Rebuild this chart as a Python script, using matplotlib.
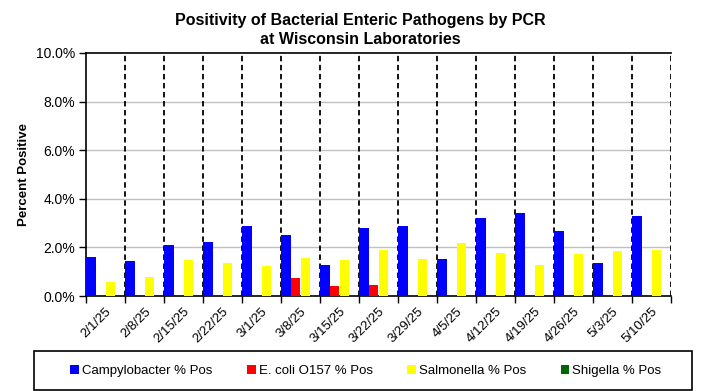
import matplotlib
matplotlib.use("Agg")
import matplotlib.pyplot as plt
import numpy as np
from matplotlib.patches import Rectangle

dates = ["2/1/25", "2/8/25", "2/15/25", "2/22/25", "3/1/25", "3/8/25", "3/15/25",
         "3/22/25", "3/29/25", "4/5/25", "4/12/25", "4/19/25", "4/26/25", "5/3/25", "5/10/25"]
campylobacter = [1.61, 1.45, 2.10, 2.23, 2.89, 2.52, 1.28, 2.81, 2.89, 1.53, 3.22, 3.43, 2.69, 1.36, 3.31]
ecoli = [0, 0, 0, 0, 0, 0.74, 0.41, 0.45, 0, 0, 0, 0, 0, 0, 0]
salmonella = [0.58, 0.79, 1.49, 1.36, 1.24, 1.57, 1.49, 1.90, 1.53, 2.19, 1.78, 1.28, 1.74, 1.86, 1.90]
shigella = [0] * 15
series_names = ["Campylobacter % Pos", "E. coli O157 % Pos", "Salmonella % Pos", "Shigella % Pos"]
colors = ["#0000FF", "#FF0000", "#FFFF00", "#006600"]
yticks = [0, 2, 4, 6, 8, 10]

plt.rcParams['font.family'] = ['Liberation Sans', 'DejaVu Sans']

fig = plt.figure(figsize=(7.04, 3.91), dpi=100)
ax = fig.add_axes([86/704, 1-296/391, (671-86)/704, (296-53)/391])

x = np.arange(len(dates))
w = 0.25
offsets = [-0.375, -0.125, 0.125, 0.375]
data = [campylobacter, ecoli, salmonella, shigella]
handles = []
for d, off, c, name in zip(data, offsets, colors, series_names):
    b = ax.bar(x + off, d, width=w * 0.95, color=c, label=name, zorder=3)
    handles.append(b)

ax.set_xlim(-0.5, len(dates) - 0.5)
ax.set_ylim(0, 10)
ax.set_yticks(yticks)
ax.set_yticklabels([f"{v:.1f}%" for v in yticks], fontsize=10)
for v in yticks[1:-1]:
    ax.axhline(v, color="#c0c0c0", lw=1, zorder=1)
for b in np.arange(0.5, len(dates), 1.0):
    ax.axvline(b, color="black", lw=1.3, ls=(0, (3, 2)), zorder=2)

ax.set_xticks(np.arange(-0.5, len(dates), 1.0))
ax.set_xticklabels([])
ax.set_xticks(x, minor=True)
ax.set_xticklabels(dates, minor=True, rotation=45, ha="right", va="top",
                   rotation_mode="anchor", fontsize=9.5)
ax.tick_params(axis="x", which="minor", length=0, pad=7)
ax.tick_params(axis="x", which="major", length=5, width=1, direction="out")
ax.tick_params(axis="y", length=5, width=1, direction="out", pad=3)
ax.spines["right"].set_visible(False)
for s in ["left", "bottom", "top"]:
    ax.spines[s].set_linewidth(1.2)

ax.set_ylabel("Percent Positive", fontsize=9.5, fontweight="bold", labelpad=4)

fig.text(360/704, 1-20/391, "Positivity of Bacterial Enteric Pathogens by PCR",
         ha="center", va="center", fontsize=11.5, fontweight="bold")
fig.text(360/704, 1-40/391, "at Wisconsin Laboratories",
         ha="center", va="center", fontsize=11.5, fontweight="bold")

fig.patches.append(Rectangle((34/704, 1-390/391), (692-34)/704, (390-351)/391,
                             transform=fig.transFigure, fill=False, ec="black", lw=1.2))
fig.legend(handles=handles, labels=series_names, loc="center",
           bbox_to_anchor=(366/704, 1-371/391), ncol=4, frameon=False, fontsize=9.5,
           handlelength=0.65, handleheight=0.65, handletextpad=0.25, columnspacing=2.6)

fig.savefig("out.png", dpi=100)
